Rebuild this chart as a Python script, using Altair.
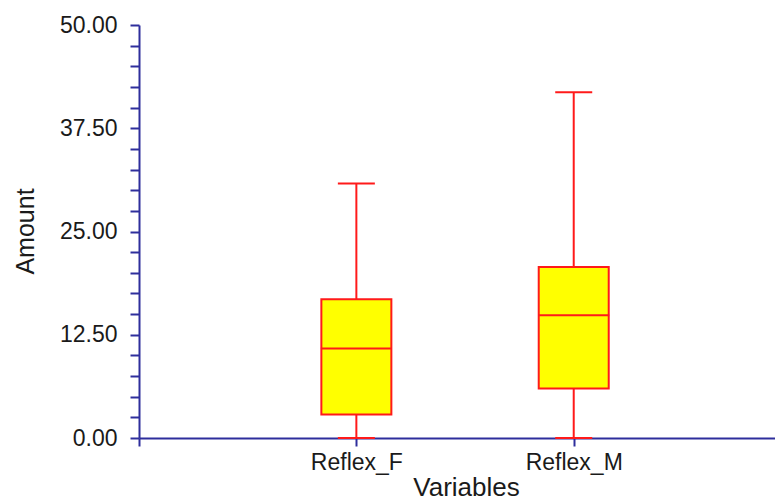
import altair as alt
import pandas as pd

categories = ["Reflex_F", "Reflex_M"]
positions = [1, 2]
mins = [0.0, 0.0]
q1s = [2.85, 6.0]
medians = [10.85, 14.85]
q3s = [16.8, 20.7]
maxs = [30.8, 41.85]
y_ticks = [i * 2.5 for i in range(21)]
x_ticks = [0, 1, 2]

df = pd.DataFrame({"cat": categories, "pos": positions, "lo": mins, "q1": q1s,
                   "med": medians, "q3": q3s, "hi": maxs})

FONT = "Liberation Sans"
NAVY = "#2e2e9c"
RED = "#ff1a1a"
TXT = "#1a1a1a"

label_map = "{" + ", ".join(f"'{p}': '{c}'" for p, c in zip(positions, categories)) + "}"

x_scale = alt.Scale(domain=[0, 2.926], nice=False, zero=False, padding=0)
x_axis = alt.Axis(title="Variables", values=x_ticks,
                  labelExpr=f"{label_map}[datum.value] || ''",
                  labelAngle=0, labelFontSize=23,
                  labelFont=FONT, labelColor=TXT,
                  labelBaseline="alphabetic", labelPadding=23,
                  labelOverlap=False, labelBound=False, labelFlush=False,
                  tickSize=8, tickColor=NAVY, tickWidth=2, grid=False,
                  domainColor=NAVY, domainWidth=2,
                  titleFont=FONT, titleFontSize=26, titleFontWeight="normal",
                  titleColor=TXT, titleX=327, titleY=57,
                  titleAlign="center", titleBaseline="alphabetic")

y_scale = alt.Scale(domain=[0, 50], nice=False, zero=True, padding=0)
y_axis = alt.Axis(title="Amount", values=y_ticks,
                  labelExpr="datum.value % 12.5 == 0 ? format(datum.value, '.2f') : ''",
                  labelOverlap=False, labelBound=False, labelFlush=False,
                  labelFontSize=23, labelFont=FONT, labelColor=TXT,
                  labelPadding=13, tickSize=9, tickColor=NAVY, tickWidth=2,
                  domainColor=NAVY, domainWidth=2, grid=False,
                  titleFont=FONT, titleFontSize=25, titleFontWeight="normal",
                  titleColor=TXT, titleX=-106, titleY=206, titleAngle=270,
                  titleAlign="center", titleBaseline="alphabetic")


def xe():
    return alt.X("pos", type="quantitative", scale=x_scale, axis=x_axis)


def ye(field):
    return alt.Y(field, type="quantitative", scale=y_scale, axis=y_axis)


base = alt.Chart(df)

whisker = base.mark_rule(color=RED, strokeWidth=2).encode(
    x=xe(), y=ye("lo"), y2="hi:Q")

box = base.mark_bar(size=70, orient="vertical", fill="#ffff00", stroke=RED,
                    strokeWidth=2).encode(
    x=xe(), y=ye("q1"), y2="q3:Q")

median = base.mark_tick(size=71, thickness=2, orient="horizontal", color=RED,
                        opacity=1).encode(x=xe(), y=ye("med"))

cap_hi = base.mark_tick(size=37, thickness=2, orient="horizontal", color=RED,
                        opacity=1).encode(x=xe(), y=ye("hi"))

cap_lo = base.mark_tick(size=37, thickness=2, orient="horizontal", color=RED,
                        opacity=1).encode(x=xe(), y=ye("lo"))

chart = alt.layer(whisker, box, median, cap_hi, cap_lo).properties(
    width=636, height=413,
    padding={"left": 131, "top": 17, "right": 0, "bottom": 62},
    autosize=alt.AutoSizeParams(type="none"),
    background="white",
).configure_view(stroke=None)

chart.save("out.html", embed_options={"renderer": "svg", "actions": False})
